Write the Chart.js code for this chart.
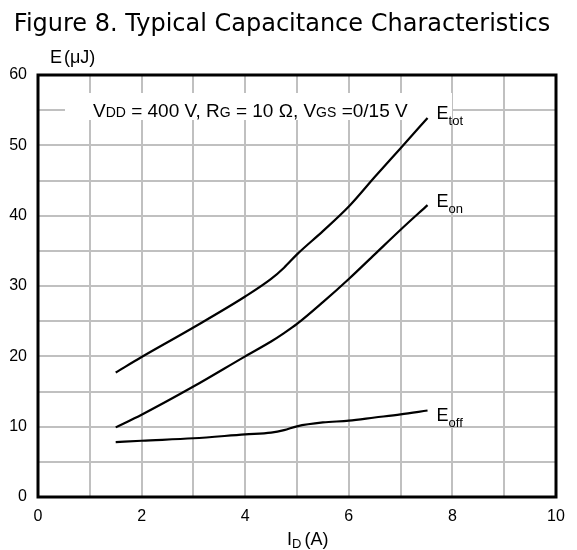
<!DOCTYPE html>
<html>
<head>
<meta charset="utf-8">
<script src="https://cdn.jsdelivr.net/npm/chart.js@4.4.1/dist/chart.umd.min.js"></script>
<style>
  html, body { margin: 0; padding: 0; background: #fff; }
  #wrap { width: 577px; height: 550px; }
</style>
</head>
<body>
<div id="wrap"><canvas id="chart" width="577" height="550"></canvas></div>
<script>
// I_D (A) sample points
const currentA = [1.5, 2, 3, 4, 4.5, 4.75, 5, 5.5, 6, 6.5, 7, 7.52];
// switching energies (uJ)
const eTot = [17.7, 19.9, 24.1, 28.5, 31.0, 32.6, 34.5, 37.8, 41.3, 45.5, 49.6, 53.9];
const eOn  = [9.9, 11.7, 15.7, 20.0, 22.1, 23.3, 24.6, 27.7, 31.0, 34.5, 38.0, 41.5];
const eOff = [7.8, 8.0, 8.35, 8.9, 9.15, 9.5, 10.05, 10.6, 10.85, 11.3, 11.75, 12.3];

const xTicks = [0, 2, 4, 6, 8, 10];
const yTicks = [0, 10, 20, 30, 40, 50, 60];

const seriesNames = [["E", "tot"], ["E", "on"], ["E", "off"]];
const seriesValues = [eTot, eOn, eOff];

const FONT = "'Liberation Sans', Arial, sans-serif";

function toPoints(vals) {
  return currentA.map((x, i) => ({ x: x, y: vals[i] }));
}

// draws "main" + smaller sub text, returns end x
function subText(ctx, x, y, main, sub, size, subSize, drop) {
  ctx.font = size + "px " + FONT;
  ctx.fillText(main, x, y);
  let w = ctx.measureText(main).width;
  ctx.font = subSize + "px " + FONT;
  ctx.fillText(sub, x + w, y + drop);
  return x + w + ctx.measureText(sub).width;
}

const decor = {
  id: "decor",
  beforeDatasetsDraw(chart) {
    const { ctx, chartArea: a } = chart;
    ctx.save();
    // white box behind the test conditions text
    ctx.fillStyle = "#fff";
    ctx.fillRect(65, 93, 387, 27);
    // heavy frame
    ctx.strokeStyle = "#000";
    ctx.lineWidth = 3;
    ctx.strokeRect(a.left, a.top, a.right - a.left, a.bottom - a.top);
    ctx.restore();
  },
  afterDatasetsDraw(chart) {
    const { ctx, scales } = chart;
    ctx.save();
    ctx.fillStyle = "#000";
    ctx.textBaseline = "alphabetic";

    // title
    ctx.font = "24px 'DejaVu Sans', Verdana, sans-serif";
    ctx.textAlign = "center";
    ctx.fillText("Figure 8. Typical Capacitance Characteristics", 282, 31);
    ctx.textAlign = "left";

    // y axis title
    ctx.font = "18px " + FONT;
    ctx.fillText("E", 50, 63);
    ctx.fillText("(\u03bcJ)", 64, 63);

    // x axis title
    let ex = subText(ctx, 287, 545, "I", "D", 18, 13, 3);
    ctx.font = "18px " + FONT;
    ctx.fillText(" (A)", ex - 2, 545);

    // test conditions
    let tx = 93, ty = 117;
    tx = subText(ctx, tx, ty, "V", "DD", 19, 14, 0);
    ctx.font = "19px " + FONT;
    ctx.fillText(" = 400 V, R", tx, ty);
    tx += ctx.measureText(" = 400 V, R").width;
    tx = subText(ctx, tx, ty, "", "G", 19, 14, 0);
    ctx.font = "19px " + FONT;
    ctx.fillText(" = 10 \u03a9, V", tx, ty);
    tx += ctx.measureText(" = 10 \u03a9, V").width;
    tx = subText(ctx, tx, ty, "", "GS", 19, 14, 0);
    ctx.font = "19px " + FONT;
    ctx.fillText(" =0/15 V", tx, ty);

    // series labels at the line ends
    const dy = [1, 2, 11];
    seriesValues.forEach((vals, i) => {
      const n = vals.length - 1;
      const px = scales.x.getPixelForValue(currentA[n]) + 9;
      const py = scales.y.getPixelForValue(vals[n]) + dy[i];
      subText(ctx, px, py, seriesNames[i][0], seriesNames[i][1], 18, 13, 6);
    });
    ctx.restore();
  }
};

const lineStyle = {
  borderColor: "#000",
  borderWidth: 2.2,
  pointRadius: 0,
  fill: false,
  cubicInterpolationMode: "monotone"
};

new Chart(document.getElementById("chart"), {
  type: "line",
  data: {
    datasets: seriesValues.map((vals, i) => Object.assign({
      label: seriesNames[i].join(""),
      data: toPoints(vals)
    }, lineStyle))
  },
  options: {
    responsive: false,
    animation: false,
    layout: { padding: { top: 75, right: 21, left: 0, bottom: 0 } },
    plugins: { legend: { display: false }, tooltip: { enabled: false } },
    scales: {
      x: {
        type: "linear",
        min: 0,
        max: 10,
        afterFit: (s) => { s.height = 53; },
        border: { display: false },
        grid: { color: "#c0c0c0", lineWidth: 2, drawTicks: false },
        ticks: {
          stepSize: 1,
          padding: 10,
          color: "#000",
          font: { family: FONT, size: 16 },
          maxRotation: 0,
          autoSkip: false,
          callback: (v) => xTicks.includes(v) ? v : ""
        }
      },
      y: {
        min: 0,
        max: 60,
        afterFit: (s) => { s.width = 38; },
        border: { display: false },
        grid: { color: "#c0c0c0", lineWidth: 2, drawTicks: false },
        ticks: {
          stepSize: 5,
          padding: 11,
          color: "#000",
          font: { family: FONT, size: 16 },
          autoSkip: false,
          callback: (v) => yTicks.includes(v) ? v : ""
        }
      }
    }
  },
  plugins: [decor]
});
</script>
</body>
</html>
